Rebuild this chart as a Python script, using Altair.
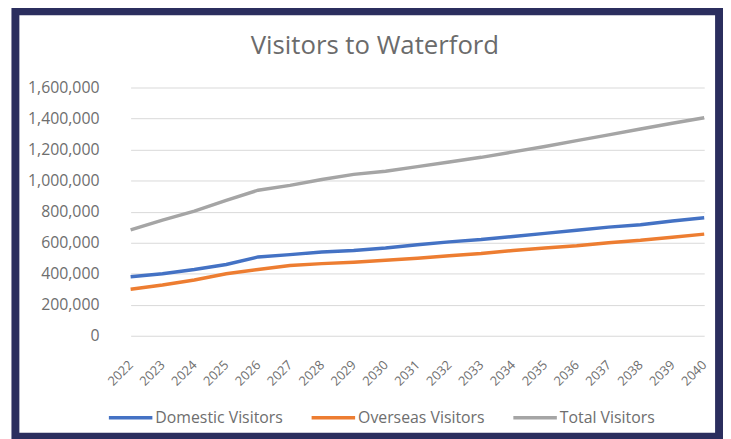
import altair as alt
import pandas as pd

years = [str(y) for y in range(2022, 2041)]
domestic = [380000, 400000, 427000, 459000, 508000, 523000, 540000, 550000, 565000, 587000,
            605000, 620000, 640000, 660000, 680000, 700000, 715000, 740000, 760000]
overseas = [300000, 327000, 359000, 400000, 427000, 453000, 465000, 474000, 486000, 500000,
            515000, 530000, 550000, 565000, 580000, 600000, 615000, 635000, 655000]
total = [682000, 745000, 803000, 873000, 938000, 969000, 1007000, 1040000, 1060000, 1090000,
         1120000, 1150000, 1185000, 1220000, 1258000, 1295000, 1333000, 1370000, 1405000]

series_names = ["Domestic Visitors", "Overseas Visitors", "Total Visitors"]
series_colors = ["#4472c4", "#ed7d31", "#a5a5a5"]
chart_title = "Visitors to Waterford"

df = pd.DataFrame({"Year": years, series_names[0]: domestic,
                   series_names[1]: overseas, series_names[2]: total})
long = df.melt("Year", var_name="Series", value_name="Visitors")

FONT = "Open Sans"
W, H = 606, 251

lines = alt.Chart(long).mark_line(strokeWidth=3.5).encode(
    x=alt.X("Year:O", title=None,
            scale=alt.Scale(type="point", range=[16, 596], padding=0),
            axis=alt.Axis(labelAngle=-45, labelAlign="right", labelBaseline="middle",
                          domain=False, ticks=False,
                          labelPadding=27, labelFontSize=13,
                          labelColor="#6e6e6e", labelFont=FONT)),
    y=alt.Y("Visitors:Q", title=None,
            scale=alt.Scale(domain=[0, 1600000], nice=False),
            axis=alt.Axis(values=list(range(0, 1600001, 200000)), format=",.0f",
                          domain=False, ticks=False, labelPadding=16,
                          labelFontSize=16, labelColor="#6e6e6e", labelFont=FONT,
                          gridColor="#d9d9d9", gridWidth=1)),
    color=alt.Color("Series:N", title=None,
                    scale=alt.Scale(domain=series_names, range=series_colors),
                    legend=alt.Legend(orient="none", legendX=-8, legendY=310,
                                      direction="horizontal", symbolType="stroke",
                                      symbolSize=1936, symbolStrokeWidth=3.5,
                                      labelFontSize=16, labelColor="#6e6e6e",
                                      labelFont=FONT, labelOffset=1,
                                      columnPadding=22)),
    order=alt.Order("Year:O"),
)

title = alt.Chart(alt.Data(values=[{"t": chart_title}])).mark_text(
    font=FONT, fontSize=26, color="#6b6b6b", align="center", baseline="alphabetic"
).encode(text="t:N", x=alt.value(263), y=alt.value(-34))

frame = alt.Chart(alt.Data(values=[{}])).mark_rect(
    filled=False, stroke="#2b2e5e", strokeWidth=8
).encode(
    x=alt.value(-100.5), x2=alt.value(611),
    y=alt.value(-77), y2=alt.value(353),
)

chart = alt.layer(lines, title, frame).properties(
    width=W, height=H,
    autosize=alt.AutoSizeParams(type="none"),
    padding={"left": 108, "top": 78, "right": 9, "bottom": 102},
    background="white",
).configure_view(stroke=None)

chart.save("out.html", embed_options={"renderer": "svg", "actions": False})
